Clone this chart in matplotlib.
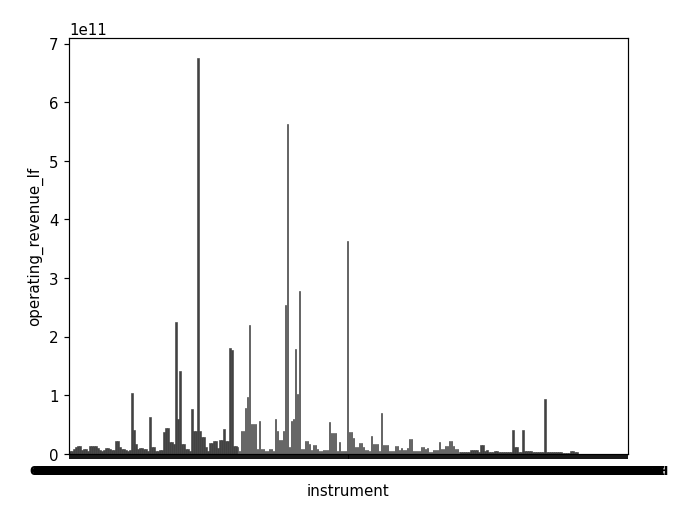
import matplotlib
matplotlib.use("Agg")
import matplotlib.pyplot as plt

# operating revenue per instrument, in billions (1e9)
revenue_bn = [
    5.1, 5.1, 8.5, 11.9, 13.6, 13.6, 6.8, 8.5, 8.5, 5.1,
    13.6, 13.6, 13.6, 13.6, 10.2, 6.8, 5.1, 6.8, 10.2, 10.2,
    8.5, 6.8, 6.8, 22.2, 22.2, 11.9, 8.5, 8.5, 6.8, 5.1,
    6.8, 104, 40.9, 17, 8.5, 10.2, 10.2, 8.5, 8.5, 5.1,
    63, 11.9, 11.9, 5.1, 5.1, 6.8, 6.8, 37.5, 44.3, 44.3,
    20.4, 20.4, 17, 225, 59.6, 141, 17, 17, 8.5, 8.5,
    5.1, 76.7, 39.2, 39.2, 675, 39.2, 29, 29, 11.9, 5.1,
    18.7, 18.7, 22.2, 22.2, 10.2, 23.9, 23.9, 42.6, 22.2, 22.2,
    181, 177, 13.6, 13.6, 11.9, 5.1, 39.2, 39.2, 78.4, 97,
    220, 51, 51, 51, 8.5, 56.2, 8.5, 8.5, 5.1, 5.1,
    8.5, 8.5, 5.1, 59.6, 39.2, 23.9, 23.9, 39.2, 254, 562,
    11.9, 56.2, 59.6, 179, 102, 278, 8.5, 8.5, 22.2, 22.2,
    17, 6.8, 15.3, 15.3, 8.5, 5.1, 5.1, 6.8, 6.8, 6.8,
    54.5, 35.8, 35.8, 35.8, 5.1, 20.4, 5.1, 5.1, 5.1, 363,
    37.5, 37.5, 27.3, 11.9, 11.9, 18.7, 18.7, 11.9, 6.8, 6.8,
    5.1, 30.7, 17, 17, 17, 5.1, 70, 15.3, 15.3, 15.3,
    5.1, 5.1, 5.1, 13.6, 13.6, 6.8, 10.2, 6.8, 6.8, 10.2,
    25.6, 25.6, 5.1, 5.1, 5.1, 5.1, 11.9, 11.9, 8.5, 10.2,
    3.4, 3.4, 6.8, 6.8, 6.8, 20.4, 8.5, 8.5, 13.6, 13.6,
    22.2, 22.2, 13.6, 8.5, 8.5, 3.4, 3.4, 3.4, 3.4, 3.4,
    3.4, 6.8, 6.8, 6.8, 6.8, 3.4, 15.3, 15.3, 5.1, 6.8,
    3.4, 3.4, 3.4, 5.1, 5.1, 2.6, 2.6, 2.6, 2.6, 2.6,
    2.6, 2.6, 40.9, 11.9, 11.9, 3.4, 3.4, 40.9, 5.1, 5.1,
    5.1, 5.1, 2.6, 2.6, 2.6, 2.6, 2.6, 2.6, 94, 3.4,
    3.4, 3.4, 3.4, 3.4, 3.4, 3.4, 3.4, 1.7, 1.7, 1.7,
    1.7, 5.1, 5.1, 3.4, 3.4, 0, 0, 0, 0, 0,
    0, 0, 0, 0, 0, 0, 0, 0, 0, 0,
    0, 0, 0, 0, 0, 0, 0, 0, 0, 0,
]

# instrument codes (tick labels; they overlap into a solid band in the original)
instruments = ["%06d.%s" % ((600000 + 137 * k) if k % 2 else (1 + 2593 * k), "SH" if k % 2 else "SZ")
               for k in range(len(revenue_bn))]

values = [v * 1e9 for v in revenue_bn]

W, H = 689, 516
fig = plt.figure(figsize=(6.4, 4.8), dpi=W / 6.4)
ax = fig.add_axes([69 / W, 1 - 454 / H, (628 - 69) / W, (454 - 39) / H])

pos = list(range(len(instruments)))
ax.bar(pos, values, width=0.8, color="#424242", edgecolor="#424242", linewidth=0.4)
ax.set_xticks(pos)
ax.set_xticklabels(instruments, fontsize=9, fontweight="bold")
ax.tick_params(axis="x", width=1.2)
ax.set_xlim(-0.5, len(instruments) - 0.5)
ax.set_ylim(0, 7.09e11)
ax.set_xlabel("instrument")
ax.set_ylabel("operating_revenue_lf")

fig.savefig("out.png", dpi=W / 6.4)
